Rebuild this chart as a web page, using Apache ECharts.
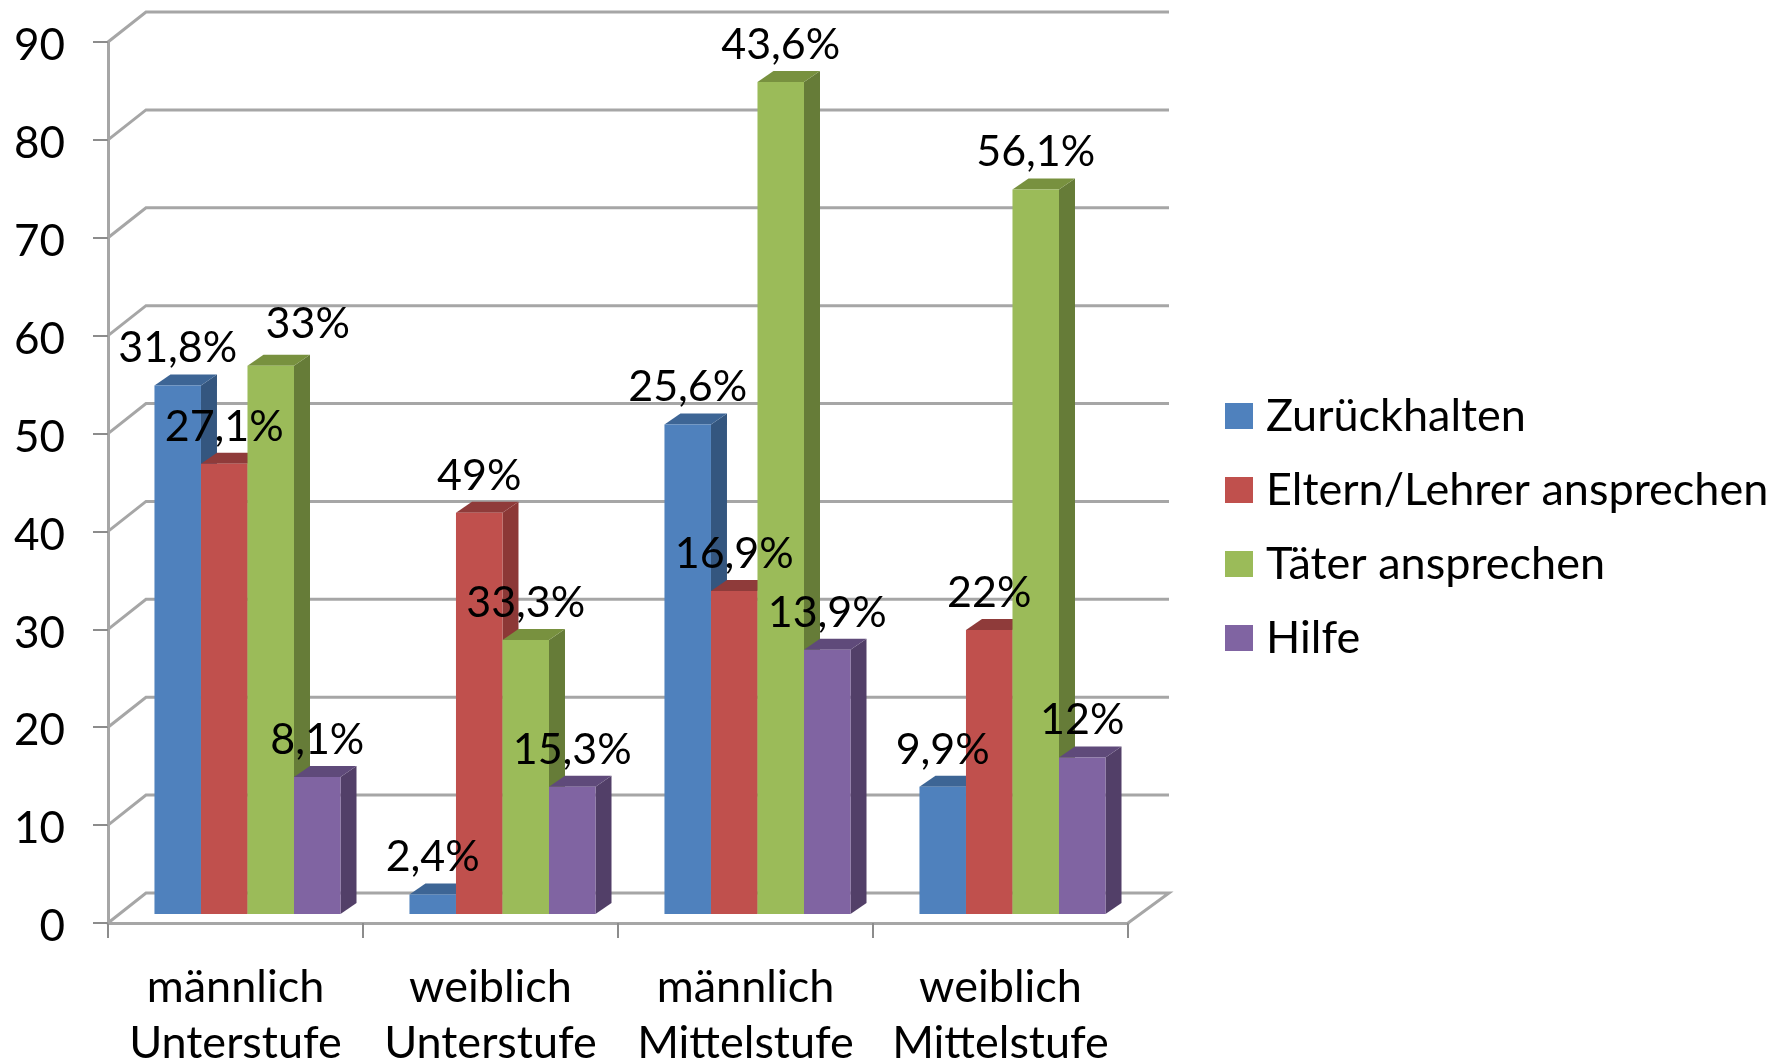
<!DOCTYPE html>
<html>
<head>
<meta charset="utf-8">
<style>html,body{margin:0;padding:0;background:#fff}#c{width:1783px;height:1064px}</style>
<script src="https://cdn.jsdelivr.net/npm/echarts@6/dist/echarts.min.js"></script>
</head>
<body>
<div id="c"></div>
<script>
var categories = ['männlich\nUnterstufe', 'weiblich\nUnterstufe', 'männlich\nMittelstufe', 'weiblich\nMittelstufe'];
var seriesNames = ['Zurückhalten', 'Eltern/Lehrer ansprechen', 'Täter ansprechen', 'Hilfe'];
var zurueckhalten = [54, 2, 50, 13];
var elternLehrer = [46, 41, 33, 29];
var taeter = [56, 28, 85, 74];
var hilfe = [14, 13, 27, 16];
var zurueckhaltenLabels = ['31,8%', '2,4%', '25,6%', '9,9%'];
var elternLehrerLabels = ['27,1%', '49%', '16,9%', '22%'];
var taeterLabels = ['33%', '33,3%', '43,6%', '56,1%'];
var hilfeLabels = ['8,1%', '15,3%', '13,9%', '12%'];
var yTicks = [0, 10, 20, 30, 40, 50, 60, 70, 80, 90];

var allValues = [zurueckhalten, elternLehrer, taeter, hilfe];
var allLabels = [zurueckhaltenLabels, elternLehrerLabels, taeterLabels, hilfeLabels];
var palette = [
  {front: '#4F81BD', side: '#34567F', top: '#3D6595'},
  {front: '#C0504D', side: '#8C3836', top: '#8F3B3A'},
  {front: '#9BBB59', side: '#667C38', top: '#78913F'},
  {front: '#8064A2', side: '#523F68', top: '#5F4A7A'}
];
var FONT = 'Lato, "Open Sans", sans-serif';
var WALL_DX = 38, WALL_DY = 30, RIGHT_DX = 41;
var FLOOR_DY = 9, BAR_SHIFT = 0.047, BAR_W = 0.1824, SIDE_DX = 16, SIDE_DY = 11;
var LABEL_UP = 37;
var labelNudge = {'2-0': [37, -5]};

function barFrame(api, s) {
  var cat = api.value(0), v = api.value(1);
  var band = api.size([1, 0])[0];
  var cx = api.coord([cat, 0])[0] + band * BAR_SHIFT;
  var w = band * BAR_W;
  var x0 = cx + (s - 2) * w;
  return {x0: x0, x1: x0 + w, w: w, yBase: api.coord([cat, 0])[1] - FLOOR_DY, yTop: api.coord([cat, v])[1] - FLOOR_DY};
}

function renderBar(s) {
  return function (params, api) {
    var f = barFrame(api, s), c = palette[s];
    return {
      type: 'group',
      children: [
        {type: 'polygon', shape: {points: [[f.x1, f.yBase], [f.x1 + SIDE_DX, f.yBase - SIDE_DY], [f.x1 + SIDE_DX, f.yTop - SIDE_DY], [f.x1, f.yTop]]}, style: {fill: c.side}},
        {type: 'polygon', shape: {points: [[f.x0, f.yTop], [f.x0 + SIDE_DX, f.yTop - SIDE_DY], [f.x1 + SIDE_DX, f.yTop - SIDE_DY], [f.x1, f.yTop]]}, style: {fill: c.top}},
        {type: 'rect', shape: {x: f.x0, y: f.yTop, width: f.w, height: f.yBase - f.yTop}, style: {fill: c.front}}
      ]
    };
  };
}

function renderLabel(params, api) {
  var s = api.value(2), cat = api.value(0);
  var f = barFrame(api, s);
  var n = labelNudge[s + '-' + cat] || [0, 0];
  return {
    type: 'text',
    x: (f.x0 + f.x1) / 2 + n[0],
    y: f.yTop - LABEL_UP + n[1],
    style: {text: allLabels[s][cat], fill: '#000', font: '43px ' + FONT, align: 'center', verticalAlign: 'middle'}
  };
}

function renderWall(params, api) {
  var v = api.value(0), cs = params.coordSys;
  var y = api.coord([0, v])[1];
  var pts = [[cs.x, y], [cs.x + WALL_DX, y - WALL_DY], [cs.x + cs.width + RIGHT_DX, y - WALL_DY]];
  if (v === 0) pts.push([cs.x + cs.width, y]);
  return {type: 'polyline', shape: {points: pts}, style: {fill: null, stroke: '#A6A6A6', lineWidth: 3}};
}

var series = [{
  type: 'custom', name: 'walls', z: 1, silent: true,
  renderItem: renderWall,
  encode: {y: 0},
  data: yTicks.map(function (t) { return [t]; })
}];
seriesNames.forEach(function (n, s) {
  series.push({
    type: 'custom', name: n, z: 2 + s, silent: true,
    itemStyle: {color: palette[s].front},
    renderItem: renderBar(s),
    encode: {x: 0, y: 1},
    data: allValues[s].map(function (v, i) { return [i, v]; })
  });
});
var labelData = [];
allValues.forEach(function (vals, s) {
  vals.forEach(function (v, i) { labelData.push([i, v, s]); });
});
series.push({
  type: 'custom', name: 'labels', z: 10, silent: true,
  renderItem: renderLabel,
  encode: {x: 0, y: 1},
  data: labelData
});

var chart = echarts.init(document.getElementById('c'), null, {renderer: 'canvas'});
chart.setOption({
  animation: false,
  backgroundColor: '#fff',
  grid: {left: 108, top: 42, width: 1020, height: 881, outerBoundsMode: 'none'},
  legend: {
    data: seriesNames, orient: 'vertical', left: 1225, top: 393, padding: 0,
    icon: 'rect', itemWidth: 28, itemHeight: 26, itemGap: 28, selectedMode: false,
    textStyle: {fontFamily: FONT, fontSize: 45, color: '#000', padding: [0, 0, 0, 8], lineHeight: 46}
  },
  xAxis: {
    type: 'category', data: categories,
    axisLine: {lineStyle: {color: '#A6A6A6', width: 3}},
    axisTick: {show: true, alignWithLabel: false, length: 15, lineStyle: {color: '#8C8C8C', width: 2}},
    axisLabel: {fontFamily: FONT, fontSize: 45, color: '#000', lineHeight: 56, margin: 36, interval: 0}
  },
  yAxis: {
    type: 'value', min: 0, max: 90, interval: 10,
    axisLine: {show: true, lineStyle: {color: '#A6A6A6', width: 3}},
    axisTick: {show: true, length: 15, lineStyle: {color: '#8C8C8C', width: 2}},
    splitLine: {show: false},
    axisLabel: {fontFamily: FONT, fontSize: 44, color: '#000', margin: 43, verticalAlign: 'top', lineHeight: 8}
  },
  series: series
});
</script>
</body>
</html>
